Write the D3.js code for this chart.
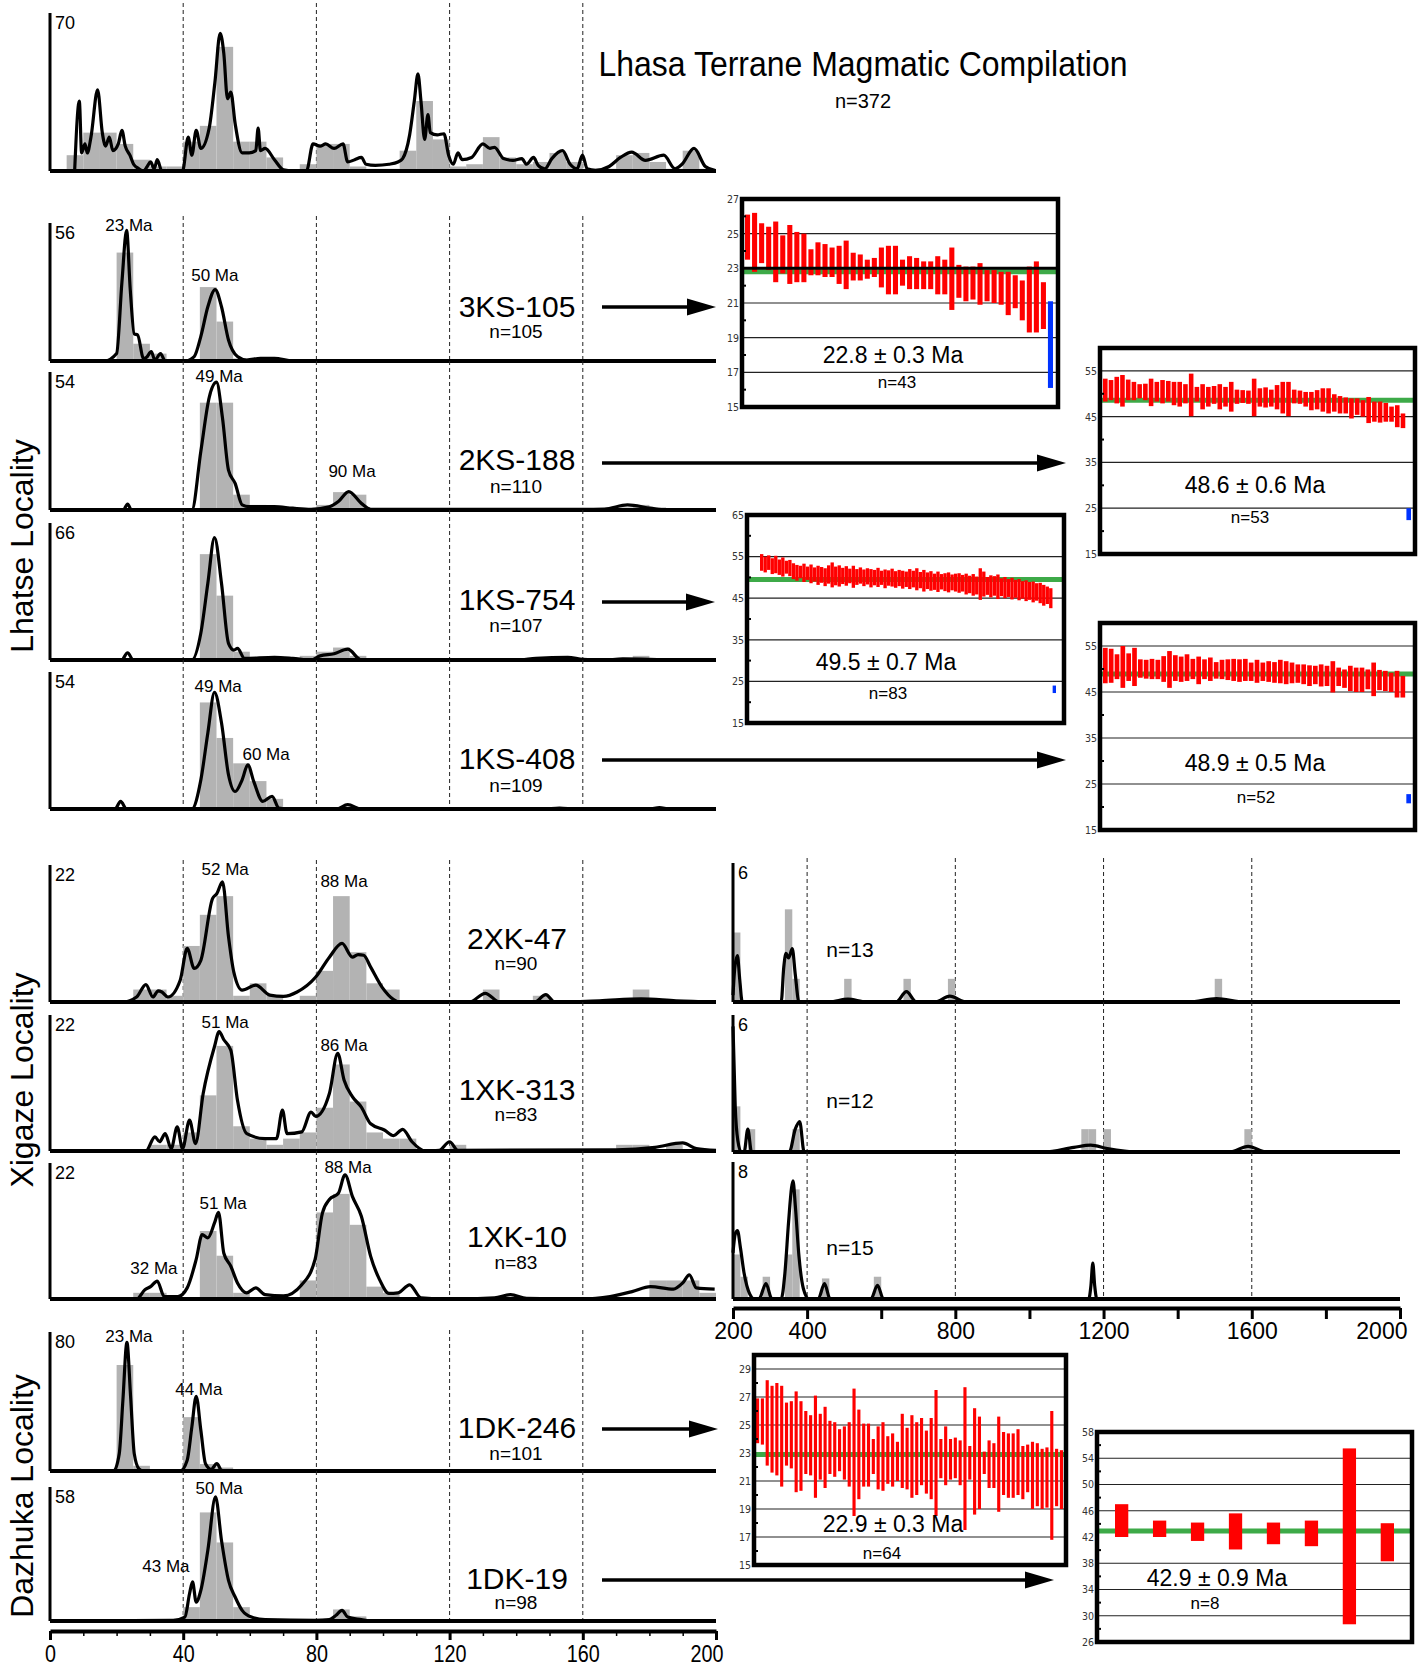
<!DOCTYPE html>
<html lang="en">
<head>
<meta charset="utf-8">
<title>Lhasa Terrane Magmatic Compilation</title>
<script src="https://cdn.jsdelivr.net/npm/d3@7"></script>
<style>
  body { margin: 0; background: #fff; }
  svg { display: block; font-family: "Liberation Sans", Arial, sans-serif; }
  .bin { fill: #b3b3b3; }
  .pdp { fill: none; stroke: #000; stroke-width: 3.2; stroke-linejoin: round; }
  .frame { stroke: #000; stroke-width: 4; }
  .yline { stroke: #000; stroke-width: 3; }
  .dash { stroke: #222; stroke-width: 1; stroke-dasharray: 4,3; }
  .ymax { font-size: 18px; }
  .peak { font-size: 17px; text-anchor: middle; }
  .sname { font-size: 30px; text-anchor: middle; }
  .sn { font-size: 19px; text-anchor: middle; }
  .xaxis path.domain { stroke: #000; stroke-width: 4; }
  .xaxis .tick line { stroke: #000; stroke-width: 3; }
  .xaxis .tick text { font-size: 23px; fill: #000; font-family: "Liberation Sans", Arial, sans-serif; }
  .wmbox { fill: none; stroke: #000; stroke-width: 4.5; }
  .wmgrid { stroke: #222; stroke-width: 1.2; }
  .wmaxis text { font-size: 10.5px; fill: #333; font-family: "Liberation Sans Narrow", "DejaVu Sans Condensed", sans-serif; }
  .wmaxis path.domain { display: none; }
  .wmaxis .tick line { display: none; }
  .mean { fill: none; stroke: #3daa48; stroke-width: 5; }
  .zbar { fill: #ff0000; }
  .rbar { fill: #0033ff; }
  .mlabel { font-size: 23px; text-anchor: middle; }
  .nlabel { font-size: 17px; text-anchor: middle; }
  .arrow { stroke: #000; stroke-width: 3.5; }
</style>
</head>
<body>
<script>
// ---------- age spectra, 0-200 Ma (histogram bins 5 Ma wide: [bin start, count]) ----------
var compHist = [[5,7],[10,17],[15,17],[20,12],[25,5],[30,2],[35,2],[40,13],[45,20],[50,55],[55,13],[60,13],[65,6],
  [75,3],[80,12],[85,12],[90,2],[95,1],[100,1],[105,9],[110,31],[115,14],[120,2],[125,3],[130,15],[135,6],[140,3],
  [145,4],[150,8],[155,4],[160,1],[165,1],[170,7],[175,8],[180,4],[185,1],[190,9],[195,1]];
var compCurve = [[7.4,0],[8.8,31],[9.5,8],[10.5,12],[11.2,8],[12.3,15],[14.3,36],[15.7,17],[16.7,11],[17.8,15],[18.9,9],
  [20.5,12],[21.6,18],[22.6,11],[24,7],[25.1,3],[26.7,1],[28.1,0],[29.2,2],[30.2,4],[31.3,1],[32.2,5],[33.6,0],[39.8,0],
  [41.5,15],[42.6,7],[43.9,18],[45.3,10],[47.8,19],[49.5,39],[51.1,61],[52.2,52],[53.3,32],[54.3,35],[55.6,21],[57.7,8],
  [59.8,8],[61.8,9],[62.5,19],[63.2,9],[64.6,10],[67.4,5],[70.1,0.5],[72.9,0],[77,0],[79,12],[81.1,11],[82.8,12],[85.3,10],
  [88,12],[89.4,4],[91.5,5],[93.5,6],[94.9,3],[97.7,2.5],[101.8,3],[104.5,4],[105.9,5.5],[108,16],[109.4,31],[110.5,43],
  [111.4,31],[112.5,14],[113.5,25],[114.2,17],[116.3,16],[118.3,16.5],[119.7,7],[121.1,3],[122.5,8],[123.8,5],[126.6,6],
  [130,12],[132.1,10],[133.5,10.5],[136.2,5.5],[139,4.7],[141.7,5.5],[143.1,3],[145.2,6],[146.6,2.5],[148.6,1],[150.7,5.5],
  [153.9,9],[156.2,3],[158.3,1],[159.9,7],[161.3,1],[163.8,0.3],[167.9,2],[171.3,6],[174.7,8.4],[178.8,4.7],[184.3,7],
  [187.7,1],[189.8,3],[193.4,10],[196.8,2],[199.6,0.3]];

var ks105Hist = [[20,44],[25,7],[30,3],[45,30],[50,16],[55,1]];
var ks105Curve = [[0,0],[16.4,0],[20,3],[21.6,32],[23,53],[24.1,29],[25.3,11],[26.3,10.6],[28.1,1],[29,1.5],[30.4,3.8],
  [31.5,0.4],[33.2,3],[34.6,0],[40.5,0],[43.3,1.8],[45.3,10],[47.4,22],[49.6,29],[51.5,22],[53.6,8.5],[56.3,1.8],[59.1,0.4],
  [63.2,1.1],[67.4,1.1],[72.9,0],[200,0]];
var ks105Peaks = [[23.7,55.2,"23 Ma"],[49.5,34.9,"50 Ma"]];

var ks188Hist = [[45,42],[50,42],[55,6],[60,2],[80,2],[85,7],[90,6],[170,1],[175,2],[180,1]];
var ks188Curve = [[0,0],[22,0],[23.3,2.3],[24.5,0],[42.6,0],[45.3,23],[47.8,44],[50,50],[51.8,36],[53.6,15.6],[55.6,10.4],
  [57.7,2],[59.8,1.3],[67.4,1.3],[72.9,0.7],[78.4,0.3],[83.9,1.3],[86.6,3.3],[89.7,7.2],[93.5,2.6],[96.3,0.3],[160,0.3],
  [166.5,0.4],[173.4,2],[180.3,0.7],[185,0],[200,0]];
var ks188Peaks = [[50.8,52.4,"49 Ma"],[90.7,15.3,"90 Ma"]];

var ks754Hist = [[45,51],[50,31],[55,4],[60,1],[75,2],[80,4],[85,6],[90,2],[175,2]];
var ks754Curve = [[0,0],[21.5,0],[23.3,3.5],[25,0],[42.6,0],[45.3,13],[47.4,37],[49.4,59],[51.5,37],[53.6,8],[55.2,4.8],
  [56.3,5.6],[58.4,0.8],[67.4,1.3],[72.9,0.8],[78.4,0],[81.1,2],[85.3,3],[89.4,5.2],[93.5,0],[140,0],[145.9,0.8],
  [155.5,1.3],[160,0.3],[166,0],[172,0.5],[180,0.3],[186,0],[200,0]];
var ks754Peaks = [];

var ks408Hist = [[45,42],[50,28],[55,18],[60,11],[65,4]];
var ks408Curve = [[0,0],[19.5,0],[21.2,3],[23,0],[42.6,0],[45.3,11.5],[47.4,30],[49.4,46],[51.5,34],[53.6,13.5],[55.6,6.9],
  [57.7,11.5],[59.4,17.4],[61.2,10.8],[63.9,3],[66.7,5],[68.7,0.4],[72,0],[86,0],[89.4,1.7],[93.5,0],[148,0],[153,0.4],
  [158,0],[180,0],[183,0.6],[186,0],[200,0]];
var ks408Peaks = [[50.5,48.5,"49 Ma"],[64.9,21.7,"60 Ma"]];

var xk47Hist = [[25,2],[30,2],[35,1],[40,9],[45,14],[50,17],[55,1],[60,3],[65,1],[75,1],[80,5],[85,17],[90,8],[95,3],
  [100,2],[130,2],[145,1],[175,2]];
var xk47Curve = [[0,0],[21.9,0],[26,0.8],[28.8,2.8],[30.9,0.8],[32.5,1.8],[33.6,1.6],[35.4,0.8],[39.1,3.5],[41.2,8.6],
  [43.3,5.4],[45.3,6.7],[48.8,16.6],[50.1,17.4],[51.8,19.3],[53.6,10.5],[55.2,4.8],[57.7,1.9],[61.8,2.7],[66,1.1],
  [70.1,0.9],[74.2,1.6],[79.8,4],[83.9,7.2],[87.7,9.4],[90.8,7.2],[92.5,7.6],[94.2,7.5],[96.3,5.6],[99.7,2.4],[103.2,0.4],
  [105,0],[126,0],[130.7,1.4],[135,0],[145.5,0],[148.9,1.2],[151.5,0],[165,0.2],[177.5,0.5],[188,0.2],[200,0]];
var xk47Peaks = [[52.6,21.4,"52 Ma"],[88.3,19.4,"88 Ma"]];

var xk313Hist = [[30,1],[35,1],[40,3],[45,9],[50,17],[55,4],[60,2],[65,1],[70,2],[75,3],[80,7],[85,14],[90,8],[95,3],
  [100,2],[105,2],[120,1],[170,1],[175,1],[185,1]];
var xk313Curve = [[0,0],[28.8,0],[31.5,2.3],[32.9,1.5],[34.6,2.8],[36.4,0.4],[38.2,3.9],[39.8,0.4],[41.9,5],[43.7,1.2],
  [46,9.3],[49.4,16.9],[50.8,19.3],[52.2,18],[54.3,16.3],[56.3,8.2],[59.1,2.8],[64.6,2],[68,2],[69.8,6.6],[71.2,2.8],
  [75.6,3.1],[78.4,6.3],[79.8,5.6],[83.9,9.3],[86.4,15.8],[88.3,11.5],[90.8,8.8],[93.5,7.1],[96.3,4.4],[100.4,3.4],
  [103.2,2.5],[105.9,3.5],[108.7,1.5],[112.8,0],[116.9,0.1],[120,1.5],[122.5,0.1],[170,0.2],[181.7,0.6],[190,1.3],
  [194.1,0.4],[200,0.1]];
var xk313Peaks = [[52.6,20.9,"51 Ma"],[88.3,17.1,"86 Ma"]];

var xk10Hist = [[25,1],[30,1],[45,11],[50,7],[55,1],[75,3],[80,14],[85,17],[90,12],[95,2],[100,1],[180,3],[185,3],
  [190,3],[195,1]];
var xk10Curve = [[0,0],[26,0],[28.5,1.5],[30.2,2],[32.2,2.9],[34.3,0.4],[38.4,0.4],[41.2,1.8],[43.9,6.4],[45.7,10.4],
  [47.4,9.9],[49.4,12.3],[50.6,14],[52.2,7.4],[54.3,5.3],[56.3,2.6],[59.1,1],[61.8,1.8],[64.6,0.7],[70.1,0.5],[75.6,2.3],
  [79.6,6.4],[81.8,13.9],[83.9,16.1],[86.6,17.1],[88.6,20.1],[90.8,16.6],[93.5,13.4],[96.3,6.9],[99,3.1],[101.8,0.9],
  [104.5,1],[108,2.3],[111.4,0.2],[120,0],[133.5,0.2],[138.3,0.7],[143.1,0.1],[160,0],[168.2,0.4],[174.8,1.2],[180.3,2],
  [187.2,1.6],[190,2.6],[192,3.9],[194.1,1.8],[199.6,1.6]];
var xk10Peaks = [[89.5,21.4,"88 Ma"],[52,15.5,"51 Ma"],[31.2,5.0,"32 Ma"]];

var dk246Hist = [[20,61],[25,3],[40,31],[45,4],[50,2],[85,1]];
var dk246Curve = [[0,0],[19.1,0],[20.8,10],[21.9,41],[23.1,74],[24.2,43],[25.3,10],[26.7,1.3],[28,0],[39.1,0],[41.2,6.2],
  [42.6,25.4],[43.9,43],[45.3,23.5],[46.7,4.2],[48.4,1],[50.1,4.2],[51.5,0.4],[53,0],[200,0]];
var dk246Peaks = [[23.7,77.7,"23 Ma"],[44.7,47.2,"44 Ma"]];

var dk19Hist = [[40,6],[45,47],[50,34],[55,6],[60,1],[80,1],[85,5],[90,2]];
var dk19Curve = [[0,0],[37,0.3],[40.5,1.7],[41.9,11.8],[42.8,16.9],[43.9,8.2],[45.3,13.3],[47.4,30.6],[49.7,53.7],
  [51.5,34.9],[53.6,17.6],[55.6,10.4],[57.7,4.6],[60.5,1.7],[64.6,0.6],[80,0.3],[83.9,0.6],[85.9,2.5],[87.7,4.6],
  [89.4,1.7],[93.5,0.6],[96,0],[200,0]];
var dk19Peaks = [[50.8,57.6,"50 Ma"],[34.8,23.8,"43 Ma"]];

// ---------- older grains, 200-2000 Ma (histogram bins 20 Ma wide) ----------
var old47Hist = [[200,3],[340,4],[360,1],[500,1],[660,1],[780,1],[1500,1]];
var old47Curve = [[200,0.3],[205,1.5],[212,2.0],[218,1],[225,0],[330,0],[337,1.5],[343,2.1],[350,1.9],[360,2.3],[368,1.2],
  [378,0],[460,0],[510,0.12],[560,0],[640,0],[668,0.45],[695,0],[745,0],[785,0.25],[830,0],[1430,0],[1505,0.15],
  [1580,0],[2000,0]];
var old313Hist = [[200,2],[240,1],[360,1],[1140,1],[1160,1],[1200,1],[1580,1]];
var old313Curve = [[200,5.5],[206,2],[213,0.5],[222,0],[230,0],[240,1.0],[250,0],[352,0],[368,1.0],[380,1.33],[392,0],
  [1040,0],[1120,0.2],[1165,0.3],[1210,0.15],[1290,0],[1540,0],[1590,0.25],[1640,0],[2000,0]];
var old10Hist = [[200,2.6],[220,1.3],[280,1.3],[340,2.6],[360,6.4],[440,1.2],[580,1.3]];
var old10Curve = [[200,2.7],[206,3.8],[212,4.0],[220,3.0],[230,1.5],[245,0.3],[258,0],[270,0],[289,0.9],[305,0],[330,0],
  [340,1.5],[350,4.5],[358,6.5],[362,6.9],[368,5.5],[378,2.5],[390,0.6],[405,0],[430,0],[447,0.9],[462,0],[572,0],
  [590,0.8],[606,0],[1160,0],[1166,0.8],[1171,2.1],[1176,0.8],[1182,0],[2000,0]];

// ---------- weighted-mean zircon ages: [low, high] of each 2-sigma bar ----------
var wm1Bars = [[23.5,26.1],[22.8,26.2],[23.3,25.6],[22.9,25.4],[22.2,25.7],[22.7,24.9],[22.1,25.5],[22.2,25.1],[22.2,25.0],
  [22.6,24.1],[22.6,24.5],[22.5,24.4],[22.5,24.2],[22.1,24.3],[21.8,24.6],[22.3,23.9],[22.3,23.8],[22.4,23.5],[22.5,23.6],
  [21.9,24.2],[21.5,24.3],[21.5,24.3],[22.0,23.5],[21.8,23.7],[21.8,23.6],[21.8,23.4],[21.8,23.4],[21.5,23.7],[21.5,23.5],
  [20.6,24.2],[21.3,23.2],[21.1,23.1],[21.2,23.1],[20.9,23.3],[21.1,22.9],[21.0,22.9],[20.9,22.8],[20.3,22.8],[20.7,22.6],
  [20.0,22.3],[19.3,23.1],[19.3,23.4],[19.5,22.2]];
var wm1Reject = [16.1,21.1];
var wm2Bars = [[48.3,53.3],[48.6,53.0],[47.9,53.7],[47.2,54.1],[48.6,53.1],[48.6,52.6],[49.0,52.1],[48.6,52.2],[47.3,53.3],
  [48.3,52.6],[47.9,53.0],[48.3,52.8],[47.5,52.6],[47.2,52.6],[47.9,52.1],[45.1,54.4],[48.3,51.5],[46.6,52.1],[47.2,51.5],
  [47.8,51.7],[46.6,52.1],[47.2,51.5],[46.1,52.6],[47.8,50.9],[48.0,50.8],[47.8,50.7],[45.1,53.3],[47.2,51.2],[47.0,51.4],
  [47.2,50.9],[46.6,51.9],[45.7,52.6],[45.1,52.6],[47.9,50.9],[47.8,50.7],[47.2,50.4],[46.4,50.4],[46.6,50.8],[46.1,51.2],
  [45.7,51.2],[46.1,49.9],[45.7,49.5],[45.7,49.2],[44.6,49.0],[45.4,49.0],[45.0,48.6],[43.6,49.3],[43.9,48.3],[43.7,48.3],
  [43.9,48.0],[43.9,47.2],[42.7,47.5],[42.5,45.7]];
var wm2Reject = [22.4,25.0];
var wm3Bars = [[51.6,55.6],[51.2,55.0],[51.8,55.3],[50.8,54.6],[51.0,55.2],[50.6,54.3],[50.2,54.8],[50.9,54.0],[50.3,54.2],
  [49.6,53.4],[49.2,53.0],[49.8,52.8],[48.9,53.3],[49.4,52.6],[48.6,53.1],[49.0,52.4],[48.2,52.8],[48.7,52.5],[47.9,52.2],
  [48.5,52.9],[47.6,53.6],[48.1,52.6],[47.8,52.9],[48.4,52.3],[48.0,52.7],[48.6,52.1],[47.5,52.8],[48.2,52.0],[48.5,52.4],
  [47.9,51.9],[48.3,52.2],[47.6,52.0],[48.1,51.8],[47.7,52.3],[48.2,51.6],[47.4,51.9],[48.0,51.7],[47.8,52.1],[47.5,51.5],
  [47.9,51.8],[47.3,51.6],[47.7,51.4],[47.2,52.0],[47.6,51.6],[46.9,52.2],[47.4,51.3],[46.6,51.8],[47.2,51.2],[46.8,51.5],
  [47.0,50.9],[46.5,51.4],[47.1,50.8],[46.7,51.0],[46.4,51.2],[46.9,50.7],[46.6,50.9],[46.3,51.0],[46.6,50.6],[45.9,50.9],
  [46.2,50.4],[45.6,50.8],[45.9,50.2],[44.6,52.2],[45.4,51.4],[45.8,50.1],[45.2,50.5],[45.6,50.3],[44.8,50.7],[45.5,49.8],
  [45.0,50.1],[45.3,49.6],[44.7,49.9],[45.1,49.4],[44.5,49.6],[44.9,49.1],[44.3,49.3],[44.6,48.9],[44.0,49.0],[44.4,48.6],
  [43.8,48.7],[43.2,48.2],[43.6,47.8],[42.6,47.4]];
var wm3Reject = [22.2,24.0];
var wm4Bars = [[46.9,54.6],[47.0,54.4],[47.8,53.2],[45.9,55.0],[47.4,53.4],[46.3,54.6],[48.1,52.1],[47.9,52.0],[47.8,52.2],
  [47.8,52.0],[47.2,52.8],[45.9,53.9],[47.4,53.0],[47.2,52.7],[47.4,53.2],[47.8,52.2],[46.7,52.7],[47.8,52.1],[47.4,52.5],
  [47.9,51.5],[47.8,52.0],[47.6,52.1],[47.4,52.2],[47.2,52.1],[47.4,52.2],[47.4,51.4],[47.0,52.0],[47.4,51.4],[47.2,51.7],
  [47.0,51.5],[46.9,52.0],[46.7,51.7],[46.9,51.4],[47.0,51.0],[46.7,51.0],[46.3,50.8],[46.7,50.7],[46.2,51.0],[46.3,50.7],
  [44.9,51.7],[46.3,50.3],[45.9,49.9],[45.2,50.7],[45.0,50.3],[45.0,50.3],[45.6,49.9],[44.1,51.4],[45.4,49.8],[45.2,49.6],
  [45.0,49.2],[43.8,49.6],[43.8,48.5]];
var wm4Reject = [20.8,22.8];
var wm5Bars = [[23.7,26.9],[23.6,26.9],[22.1,28.2],[21.6,27.8],[21.4,28.0],[20.6,27.8],[22.1,26.6],[21.9,26.7],[20.2,27.4],
  [20.3,26.7],[21.5,26.0],[21.4,25.7],[19.8,27.1],[21.1,25.8],[20.5,26.3],[21.5,25.3],[21.3,25.2],[21.7,24.7],[21.1,24.9],
  [20.6,25.2],[18.5,27.6],[19.7,26.1],[20.6,25.1],[20.6,25.1],[21.5,24.0],[20.4,24.9],[20.3,25.2],[20.8,24.2],[20.6,24.4],
  [21.0,23.8],[20.5,25.8],[20.4,24.8],[19.8,25.7],[20.0,25.2],[20.7,25.5],[20.1,24.6],[19.7,25.5],[18.5,27.5],[21.2,24.0],
  [20.7,24.9],[21.1,24.0],[21.2,24.1],[20.7,23.9],[17.5,27.7],[21.1,23.5],[18.6,26.2],[19.0,25.6],[21.5,23.1],[20.5,23.9],
  [20.5,23.7],[18.8,25.6],[20.0,24.5],[19.8,24.4],[19.8,24.4],[20.0,24.7],[19.7,23.5],[20.2,23.6],[19.0,23.8],[19.2,23.7],
  [19.0,23.3],[19.1,23.4],[16.8,26.0],[19.2,23.3],[19.0,23.2]];
var wm6Bars = [[42.0,47.0],[42.0,44.5],[41.4,44.2],[40.1,45.6],[40.9,44.2],[40.6,44.5],[28.7,55.5],[38.3,44.1]];

var wm1Ticks = [15,17,19,21,23,25,27], wm1Grid = [17,19,21,23,25];
var wm2Ticks = [15,25,35,45,55], wm2Grid = [25,35,45,55];
var wm3Ticks = [15,25,35,45,55,65], wm3Grid = [25,35,45,55];
var wm5Ticks = [15,17,19,21,23,25,27,29], wm5Grid = [17,19,21,23,25,27,29];
var wm6Ticks = [26,30,34,38,42,46,50,54,58], wm6Grid = [30,34,38,46,50,54];

var leftDash = [40,80,120,160];
var rightDash = [400,800,1200,1600];
var leftTicks = d3.range(0,201,10), leftLabels = [0,40,80,120,160,200];
var rightTicks = d3.range(200,2001,200), rightLabels = [200,400,800,1200,1600,2000];

// ---------- layout ----------
var panels = [
  {hist: compHist, curve: compCurve, max: 70, top: 13, base: 171, dashTop: 3, peaks: []},
  {hist: ks105Hist, curve: ks105Curve, max: 56, top: 223, base: 361, dashTop: 216, peaks: ks105Peaks,
   name: "3KS-105", n: "n=105", nameY: 317, nY: 338, arrowY: 307, arrowTo: 716},
  {hist: ks188Hist, curve: ks188Curve, max: 54, top: 372, base: 510, dashTop: 361, peaks: ks188Peaks,
   name: "2KS-188", n: "n=110", nameY: 470, nY: 493, arrowY: 463, arrowTo: 1066},
  {hist: ks754Hist, curve: ks754Curve, max: 66, top: 523, base: 660, dashTop: 510, peaks: ks754Peaks,
   name: "1KS-754", n: "n=107", nameY: 610, nY: 632, arrowY: 602, arrowTo: 715},
  {hist: ks408Hist, curve: ks408Curve, max: 54, top: 672, base: 809, dashTop: 660, peaks: ks408Peaks,
   name: "1KS-408", n: "n=109", nameY: 769, nY: 792, arrowY: 760, arrowTo: 1066},
  {hist: xk47Hist, curve: xk47Curve, max: 22, top: 865, base: 1002, dashTop: 860, peaks: xk47Peaks,
   name: "2XK-47", n: "n=90", nameY: 949, nY: 970},
  {hist: xk313Hist, curve: xk313Curve, max: 22, top: 1015, base: 1151, dashTop: 1002, peaks: xk313Peaks,
   name: "1XK-313", n: "n=83", nameY: 1100, nY: 1121},
  {hist: xk10Hist, curve: xk10Curve, max: 22, top: 1163, base: 1299, dashTop: 1151, peaks: xk10Peaks,
   name: "1XK-10", n: "n=83", nameY: 1247, nY: 1269},
  {hist: dk246Hist, curve: dk246Curve, max: 80, top: 1332, base: 1471, dashTop: 1330, peaks: dk246Peaks,
   name: "1DK-246", n: "n=101", nameY: 1438, nY: 1460, arrowY: 1429, arrowTo: 718},
  {hist: dk19Hist, curve: dk19Curve, max: 58, top: 1487, base: 1621, dashTop: 1471, peaks: dk19Peaks,
   name: "1DK-19", n: "n=98", nameY: 1589, nY: 1609, arrowY: 1580, arrowTo: 1054}
];
var oldPanels = [
  {hist: old47Hist, curve: old47Curve, max: 6, top: 863, base: 1002, dashTop: 858, n: "n=13", nY: 957},
  {hist: old313Hist, curve: old313Curve, max: 6, top: 1015, base: 1152, dashTop: 1002, n: "n=12", nY: 1108},
  {hist: old10Hist, curve: old10Curve, max: 8, top: 1162, base: 1299, dashTop: 1152, n: "n=15", nY: 1255}
];
var wmPanels = [
  {bars: wm1Bars, reject: wm1Reject, mean: 22.8, label: "22.8 \u00b1 0.3 Ma", n: "n=43", domain: [15,27],
   ticks: wm1Ticks, grid: wm1Grid, heavy: 23, box: [742,199,1058,407], barRange: [745,1053], pad: 0.28,
   labelXY: [893,363], nXY: [897,388]},
  {bars: wm2Bars, reject: wm2Reject, mean: 48.6, label: "48.6 \u00b1 0.6 Ma", n: "n=53", domain: [15,60],
   ticks: wm2Ticks, grid: wm2Grid, box: [1100,348,1415,554], barRange: [1103,1411], pad: 0.2,
   labelXY: [1255,493], nXY: [1250,523]},
  {bars: wm3Bars, reject: wm3Reject, mean: 49.5, label: "49.5 \u00b1 0.7 Ma", n: "n=83", domain: [15,65],
   ticks: wm3Ticks, grid: wm3Grid, box: [747,515,1064,723], barRange: [760,1056], pad: 0.05,
   labelXY: [886,670], nXY: [888,699]},
  {bars: wm4Bars, reject: wm4Reject, mean: 48.9, label: "48.9 \u00b1 0.5 Ma", n: "n=52", domain: [15,60],
   ticks: wm2Ticks, grid: wm2Grid, box: [1100,623,1415,830], barRange: [1103,1411], pad: 0.2,
   labelXY: [1255,771], nXY: [1256,803]},
  {bars: wm5Bars, mean: 22.9, label: "22.9 \u00b1 0.3 Ma", n: "n=64", domain: [15,30],
   ticks: wm5Ticks, grid: wm5Grid, box: [754,1355,1066,1565], barRange: [756,1063], pad: 0.35,
   labelXY: [893,1532], nXY: [882,1559]},
  {bars: wm6Bars, mean: 42.9, label: "42.9 \u00b1 0.9 Ma", n: "n=8", domain: [26,58],
   ticks: wm6Ticks, grid: wm6Grid, box: [1097,1432,1412,1642], barRange: [1115,1394], pad: 0.65,
   labelXY: [1217,1586], nXY: [1205,1609]}
];

var svg = d3.select("body").append("svg")
  .attr("width", 1422)
  .attr("height", 1666);

var xAge = d3.scaleLinear().domain([0,200]).range([50,716]);
var xOld = d3.scaleLinear().domain([200,2000]).range([733,1400]);

function drawSpectrum(p, x, binW, dashAt) {
  var y = d3.scaleLinear().domain([0, p.max]).range([p.base, p.top]);
  var g = svg.append("g");
  var r = x.range();

  g.selectAll(".dash").data(dashAt).enter().append("line")
    .attr("class", "dash")
    .attr("x1", d => x(d)).attr("x2", d => x(d))
    .attr("y1", p.dashTop).attr("y2", p.base);

  g.selectAll(".bin").data(p.hist).enter().append("rect")
    .attr("class", "bin")
    .attr("x", d => x(d[0]))
    .attr("width", d => x(d[0] + binW) - x(d[0]))
    .attr("y", d => y(d[1]))
    .attr("height", d => p.base - y(d[1]));

  g.append("path").datum(p.curve)
    .attr("class", "pdp")
    .attr("d", d3.line().x(d => x(d[0])).y(d => y(d[1])).curve(d3.curveMonotoneX));

  g.append("line").attr("class", "frame")
    .attr("x1", r[0]).attr("x2", r[1]).attr("y1", p.base).attr("y2", p.base);
  g.append("line").attr("class", "yline")
    .attr("x1", r[0]).attr("x2", r[0]).attr("y1", p.top).attr("y2", p.base);
  g.append("text").attr("class", "ymax")
    .attr("x", r[0] + 5).attr("y", p.top + 16).text(p.max);

  g.selectAll(".peak").data(p.peaks || []).enter().append("text")
    .attr("class", "peak")
    .attr("x", d => x(d[0]))
    .attr("y", d => y(d[1]) + 6)
    .text(d => d[2]);
  return g;
}

function arrow(y, x1, x2) {
  svg.append("line").attr("class", "arrow")
    .attr("x1", x1).attr("x2", x2 - 24).attr("y1", y).attr("y2", y);
  svg.append("path")
    .attr("d", "M" + x2 + "," + y + "L" + (x2 - 29) + "," + (y - 8.5) + "L" + (x2 - 29) + "," + (y + 8.5) + "Z")
    .attr("fill", "#000");
}

// left spectra
panels.forEach(function(p) {
  drawSpectrum(p, xAge, 5, leftDash);
  if (p.name) {
    svg.append("text").attr("class", "sname").attr("x", 517).attr("y", p.nameY).text(p.name);
    svg.append("text").attr("class", "sn").attr("x", 516).attr("y", p.nY).text(p.n);
  }
  if (p.arrowY) arrow(p.arrowY, 602, p.arrowTo);
});

// older detrital spectra
oldPanels.forEach(function(p) {
  drawSpectrum(p, xOld, 20, rightDash);
  svg.append("text").attr("class", "sn").attr("x", 850).attr("y", p.nY).style("font-size", "21px").text(p.n);
});

// x axes
var axLeft = svg.append("g").attr("class", "xaxis")
  .attr("transform", "translate(0,1631)")
  .call(d3.axisBottom(xAge).tickValues(leftTicks).tickSize(9).tickSizeOuter(0).tickPadding(5)
    .tickFormat(d => leftLabels.indexOf(d) >= 0 ? d : ""));
axLeft.selectAll(".tick").filter(d => leftLabels.indexOf(d) < 0).select("line")
  .attr("y2", 5).style("stroke-width", 1.5);
axLeft.selectAll(".tick text")
  .style("font-size", "24px")
  .attr("textLength", d => leftLabels.indexOf(d) >= 0 ? String(d).length * 11 : null)
  .attr("lengthAdjust", "spacingAndGlyphs");
axLeft.selectAll(".tick text").filter(d => d === 200)
  .attr("text-anchor", "end").attr("x", 7);

var axRight = svg.append("g").attr("class", "xaxis")
  .attr("transform", "translate(0,1308)")
  .call(d3.axisBottom(xOld).tickValues(rightTicks).tickSize(11).tickSizeOuter(0).tickPadding(4)
    .tickFormat(d => rightLabels.indexOf(d) >= 0 ? d : ""));
axRight.selectAll(".tick text").filter(d => d === 2000)
  .attr("text-anchor", "end").attr("x", 7);

// weighted-mean plots
wmPanels.forEach(function(w) {
  var b = w.box;
  var y = d3.scaleLinear().domain(w.domain).range([b[3], b[1]]);
  var g = svg.append("g");
  var slots = w.bars.length + (w.reject ? 1 : 0);
  var xb = d3.scaleBand().domain(d3.range(slots)).range(w.barRange).paddingInner(w.pad);

  g.selectAll(".wmgrid").data(w.grid).enter().append("line")
    .attr("class", "wmgrid")
    .attr("x1", b[0]).attr("x2", b[2])
    .attr("y1", d => y(d)).attr("y2", d => y(d));

  g.append("line").attr("class", "mean")
    .attr("x1", b[0]).attr("x2", b[2]).attr("y1", y(w.mean)).attr("y2", y(w.mean));

  g.selectAll(".zbar").data(w.bars).enter().append("rect")
    .attr("class", "zbar")
    .attr("x", (d, i) => xb(i))
    .attr("width", xb.bandwidth())
    .attr("y", d => y(d[1]))
    .attr("height", d => y(d[0]) - y(d[1]));

  if (w.reject) {
    g.append("rect").attr("class", "rbar")
      .attr("x", xb(slots - 1)).attr("width", Math.max(3, xb.bandwidth()))
      .attr("y", y(w.reject[1])).attr("height", y(w.reject[0]) - y(w.reject[1]));
  }
  if (w.heavy) {
    g.append("line").attr("x1", b[0]).attr("x2", b[2]).attr("y1", y(w.heavy)).attr("y2", y(w.heavy))
      .attr("stroke", "#000").attr("stroke-width", 3);
  }

  // little minor ticks on the left edge
  var step = w.ticks[1] - w.ticks[0];
  g.selectAll(".minor").data(w.ticks.slice(0, -1)).enter().append("line")
    .attr("x1", b[0]).attr("x2", b[0] + 4)
    .attr("y1", d => y(d + step / 2)).attr("y2", d => y(d + step / 2))
    .attr("stroke", "#000").attr("stroke-width", 2);

  g.append("rect").attr("class", "wmbox")
    .attr("x", b[0]).attr("y", b[1]).attr("width", b[2] - b[0]).attr("height", b[3] - b[1]);

  g.append("g").attr("class", "wmaxis")
    .attr("transform", "translate(" + (b[0] - 2) + ",0)")
    .call(d3.axisLeft(y).tickValues(w.ticks).tickSize(0).tickPadding(1));

  g.append("text").attr("class", "mlabel").attr("x", w.labelXY[0]).attr("y", w.labelXY[1]).text(w.label);
  g.append("text").attr("class", "nlabel").attr("x", w.nXY[0]).attr("y", w.nXY[1]).text(w.n);
});

// titles
svg.append("text")
  .attr("x", 863).attr("y", 76)
  .attr("text-anchor", "middle")
  .attr("textLength", 529).attr("lengthAdjust", "spacingAndGlyphs")
  .style("font-size", "35px")
  .text("Lhasa Terrane Magmatic Compilation");
svg.append("text")
  .attr("x", 863).attr("y", 108)
  .attr("text-anchor", "middle")
  .style("font-size", "20px")
  .text("n=372");

var localities = [["Lhatse Locality", 546], ["Xigaze Locality", 1080], ["Dazhuka Locality", 1496]];
svg.selectAll(".loc").data(localities).enter().append("text")
  .attr("class", "loc")
  .attr("transform", d => "translate(33," + d[1] + ") rotate(-90)")
  .attr("text-anchor", "middle")
  .style("font-size", "32px")
  .text(d => d[0]);
</script>
</body>
</html>
